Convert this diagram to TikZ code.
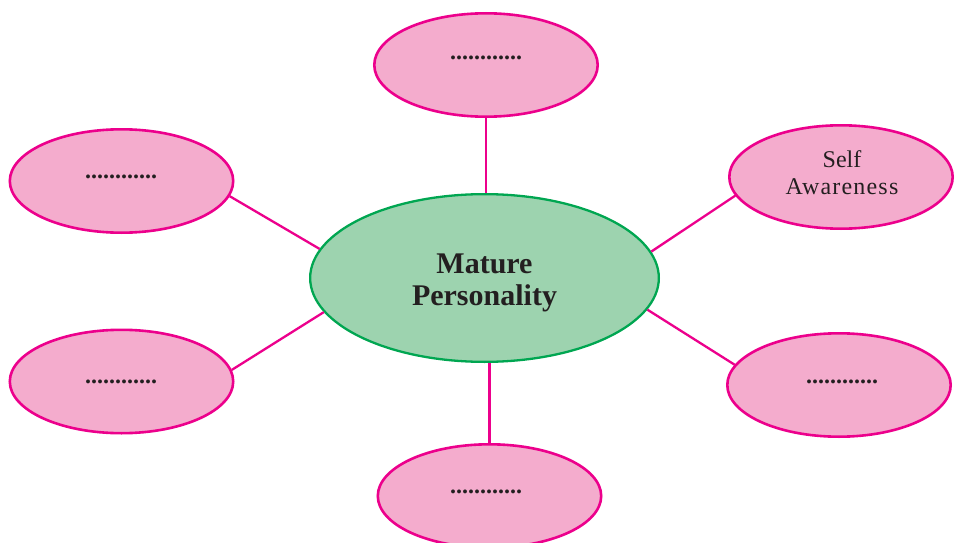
\documentclass[tikz,border=0pt]{standalone}
\usepackage{fontspec}
\setmainfont{Liberation Serif}
\usetikzlibrary{shapes.geometric}
\definecolor{pinkline}{HTML}{EC008C}
\definecolor{pinkfill}{HTML}{F4ACCD}
\definecolor{greenline}{HTML}{00A651}
\definecolor{greenfill}{HTML}{9DD3AF}
\definecolor{ink}{HTML}{231F20}
\begin{document}
\begin{tikzpicture}[x=1pt,y=-1pt,
  bubble/.style={ellipse, draw=pinkline, fill=pinkfill, line width=2.6pt,
    minimum width=223.4pt, minimum height=103.4pt, inner sep=0pt},
  core/.style={ellipse, draw=greenline, fill=greenfill, line width=2.3pt,
    minimum width=348.7pt, minimum height=167.7pt, inner sep=0pt},
  link/.style={draw=pinkline, line width=2.3pt},
  blank/.style={text=ink, font=\fontsize{24}{27}\selectfont\bfseries, inner sep=0pt},
  words/.style={text=ink, align=center, inner sep=0pt, font=\fontsize{24}{27}\selectfont},
  title/.style={text=ink, align=center, inner sep=0pt, font=\fontsize{30}{32}\selectfont\bfseries}
]
\useasboundingbox (0,0) rectangle (956,543);

% ellipses
\node[bubble] (t)  at (486,65) {};
\node[bubble] (lt) at (121.5,181) {};
\node[bubble] (rt) at (841,177) {};
\node[bubble] (lb) at (121.5,381.5) {};
\node[bubble] (rb) at (839,385) {};
\node[bubble] (b)  at (489.5,496) {};
\node[core]   (c)  at (484.5,278) {};

% texts
\node[blank] (t-text)  at (486,58.3)  {............};
\node[blank] (lt-text) at (121,177.3) {............};
\node[blank] (lb-text) at (121,381.7) {............};
\node[blank] (rb-text) at (842,381.7) {............};
\node[blank] (b-text)  at (486,491.7) {............};
\node[words] (rt-text) at (842,172.3) {Self\\{\addfontfeature{LetterSpace=5}Awareness}};
\node[title] (c-text)  at (484.5,282.5) {Mature\\Personality};

% connectors
\draw[link] (t.south) -- (t.south |- c.north);
\draw[link] (b.north) -- (b.north |- c.south);
\draw[link] (lt.-8.4) -- (c.170.8);
\draw[link] (rt.190.6) -- (c.9.9);
\draw[link] (lb.6.8) -- (c.192.5);
\draw[link] (rb.169.8) -- (c.-11.9);
\end{tikzpicture}
\end{document}
